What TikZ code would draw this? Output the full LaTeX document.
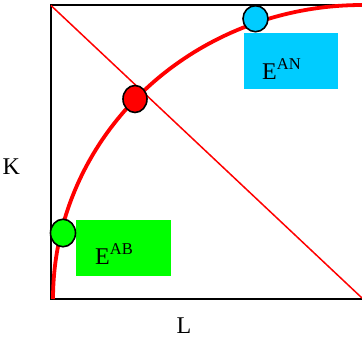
\documentclass[tikz,border=0pt]{standalone}
\usepackage{fontspec}
\setmainfont{Liberation Serif}
\usetikzlibrary{shapes.geometric}
\definecolor{cyanbox}{HTML}{00CCFF}
\definecolor{greenbox}{HTML}{00FF00}
\tikzset{
  axisline/.style={draw=black, line width=2pt},
  diagline/.style={draw=red, line width=1.5pt},
  curveline/.style={draw=red, line width=3.8pt},
  pointmark/.style={ellipse, draw=black, line width=1.6pt, inner sep=0pt, minimum width=24pt, minimum height=27pt},
  labelbox/.style={rectangle, draw=none, inner sep=0pt},
  bigtext/.style={inner sep=0pt, font=\fontsize{24}{28}\selectfont},
}
\newcommand{\supsc}[1]{\raisebox{10pt}{\fontsize{16.5}{18}\selectfont #1}}
\begin{document}
\begin{tikzpicture}[x=1pt,y=-1pt]
\useasboundingbox (0,0) rectangle (362,337);
\fill[white] (0,0) rectangle (362,337);
% axes
\coordinate (tl) at (51,5.5);
\coordinate (bl) at (51,299);
\coordinate (tr) at (363,5.5);
\coordinate (br) at (363,299);
\coordinate (diagend) at (362,298);
\draw[axisline] (tr) -- (tl) -- (bl) -- (br);
% diagonal
\draw[diagline] (tl) -- (diagend);
% curve
\draw[curveline] plot[domain=0:90, samples=80] ({362-309*cos(\x)}, {299-294*sin(\x)});
% boxes
\node[labelbox, fill=cyanbox, minimum width=94pt, minimum height=56pt] (anbox) at (291.3,61.3) {};
\node[labelbox, fill=greenbox, minimum width=94.4pt, minimum height=56pt] (abbox) at (123.5,248) {};
\node[bigtext, anchor=base west] (antext) at (262,79.3) {E\supsc{AN}};
\node[bigtext, anchor=base west] (abtext) at (95,264.5) {E\supsc{AB}};
% points
\node[pointmark, fill=red] (mid) at (135,99) {};
\node[pointmark, fill=cyanbox, minimum width=25pt, minimum height=26pt] (anpt) at (255.5,18.7) {};
\node[pointmark, fill=greenbox, minimum width=25pt, minimum height=27.5pt] (abpt) at (63,233) {};
% axis labels
\node[bigtext, anchor=base west] (klab) at (2.5,175) {K};
\node[bigtext, anchor=base west] (llab) at (176.5,333) {L};
\end{tikzpicture}
\end{document}
